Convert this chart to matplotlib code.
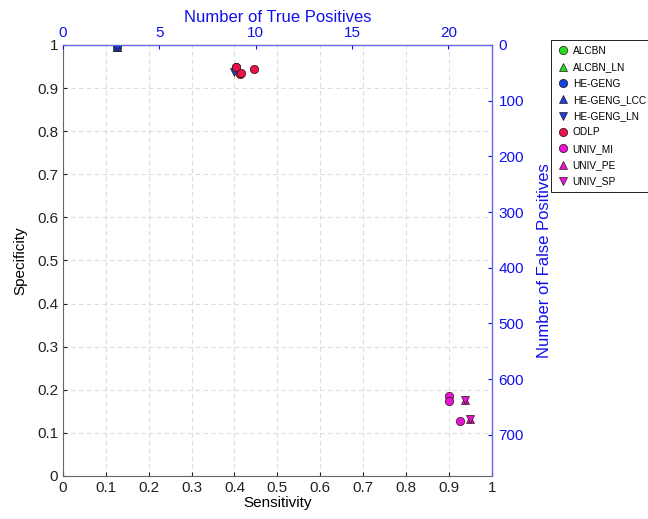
import matplotlib.pyplot as plt

plt.rcParams['font.family'] = ['Liberation Sans', 'DejaVu Sans']

# sensitivity / specificity per method
alcbn_sens = [0.403]
alcbn_spec = [0.950]
alcbn_ln_sens = [0.126]
alcbn_ln_spec = [0.995]
heg_sens = [0.126]
heg_spec = [0.995]
heg_lcc_sens = [0.126]
heg_lcc_spec = [0.995]
heg_ln_sens = [0.126, 0.399]
heg_ln_spec = [0.995, 0.937]
odlp_sens = [0.403, 0.412, 0.416, 0.446]
odlp_spec = [0.950, 0.932, 0.935, 0.944]
mi_sens = [0.900, 0.900, 0.927]
mi_spec = [0.186, 0.174, 0.128]
pe_sens = [0.937, 0.949]
pe_spec = [0.176, 0.132]
sp_sens = [0.937, 0.949]
sp_spec = [0.176, 0.132]

n_tp_max = 22.25
n_fp_max = 774

series = [
    ('ALCBN', alcbn_sens, alcbn_spec, 'o', '#22dd22'),
    ('ALCBN_LN', alcbn_ln_sens, alcbn_ln_spec, '^', '#22dd22'),
    ('HE-GENG', heg_sens, heg_spec, 'o', '#1144dd'),
    ('HE-GENG_LCC', heg_lcc_sens, heg_lcc_spec, '^', '#1144dd'),
    ('HE-GENG_LN', heg_ln_sens, heg_ln_spec, 'v', '#1144dd'),
    ('ODLP', odlp_sens, odlp_spec, 'o', '#e8134a'),
    ('UNIV_MI', mi_sens, mi_spec, 'o', '#e614d6'),
    ('UNIV_PE', pe_sens, pe_spec, '^', '#e614d6'),
    ('UNIV_SP', sp_sens, sp_spec, 'v', '#e614d6'),
]

fig = plt.figure(figsize=(6.48, 5.19), dpi=100)
ax = fig.add_axes([0.0972, 0.0829, 0.6617, 0.8304])

for name, xs, ys, mk, col in series:
    ax.plot(xs, ys, linestyle='none', marker=mk, markersize=6,
            markerfacecolor=col, markeredgecolor='#331111',
            markeredgewidth=0.5, label=name)

ax.set_xlim(0, 1)
ax.set_ylim(0, 1)
ticks = [i / 10 for i in range(11)]
ticklabels = ['0'] + ['%.1f' % t for t in ticks[1:-1]] + ['1']
ax.set_xticks(ticks)
ax.set_xticklabels(ticklabels)
ax.set_yticks(ticks)
ax.set_yticklabels(ticklabels)
ax.grid(True, linestyle=(0, (4, 3)), color='#dddddd', linewidth=0.8)
ax.tick_params(direction='in', labelsize=11, length=3, colors='#222222')
ax.set_xlabel('Sensitivity', fontsize=11, labelpad=1)
ax.set_ylabel('Specificity', fontsize=11, labelpad=7)
for s in ['left', 'bottom']:
    ax.spines[s].set_color('#666666')

# top axis: true positives
axt = ax.twiny()
axt.set_xlim(0, n_tp_max)
axt.set_xticks([0, 5, 10, 15, 20])
axt.tick_params(direction='in', labelsize=11, length=3, colors='#1010ee')
axt.set_xlabel('Number of True Positives', fontsize=12, color='#1010ee', labelpad=3)

# right axis: false positives
axr = ax.twinx()
axr.set_ylim(n_fp_max, 0)
axr.set_yticks(range(0, 800, 100))
axr.tick_params(direction='in', labelsize=11, length=3, colors='#1010ee', pad=5)
axr.set_ylabel('Number of False Positives', fontsize=12, color='#1010ee', labelpad=9)

for a in [axt, axr]:
    a.spines['top'].set_color('#6666ff')
    a.spines['right'].set_color('#6666ff')
    a.spines['left'].set_visible(False)
    a.spines['bottom'].set_visible(False)

leg = ax.legend(loc='upper left', bbox_to_anchor=(0.851, 0.923),
                bbox_transform=fig.transFigure, fontsize=7.3, frameon=True,
                fancybox=False, edgecolor='black', framealpha=1,
                handletextpad=0.5, borderpad=0.6, labelspacing=0.62,
                handlelength=1.0, borderaxespad=0)
leg.get_frame().set_linewidth(0.6)

fig.savefig('out.png', dpi=100)
